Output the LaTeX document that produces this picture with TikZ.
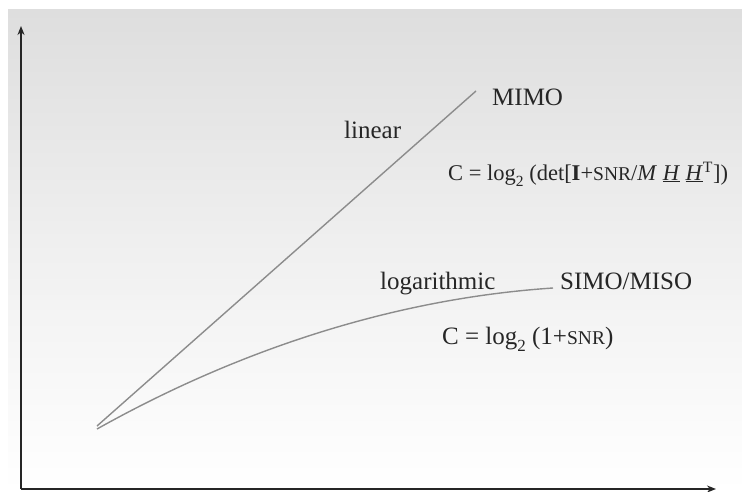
\documentclass[tikz,border=0pt]{standalone}
\usepackage{fontspec}
\setmainfont{Liberation Serif}
\usetikzlibrary{arrows.meta}
\newcommand{\lbsub}{\raisebox{-0.28em}{\fontsize{17}{17}\selectfont 2}}
\newcommand{\smcap}[1]{{\fontsize{19.5}{19.5}\selectfont #1}}
\begin{document}
\begin{tikzpicture}[x=1pt,y=-1pt,
  lbl/.style={anchor=base west,inner sep=0pt,font=\fontsize{25}{29}\selectfont,text=black!85},
  axisline/.style={line width=2pt,black!85,-{Stealth[length=9pt,width=7pt]}},
  curveline/.style={line width=1.4pt,black!45}]
\useasboundingbox (0,0) rectangle (742,491);
\fill[white] (0,0) rectangle (742,491);
\shade[top color=black!13,bottom color=white,middle color=black!6] (8,9) rectangle (742,491);
\coordinate (o) at (21,489);
\coordinate (ytip) at (21,26);
\coordinate (xtip) at (716,489);
\draw[axisline] (o) -- (ytip);
\draw[axisline] (o) -- (xtip);
\coordinate (s1) at (97,426);
\coordinate (s2) at (97,429);
\coordinate (e1) at (476,91);
\coordinate (e2) at (553,288);
\draw[curveline] (s1) -- (e1);
\draw[curveline] (s2) .. controls (247,345) and (403,298) .. (e2);
\node[lbl] (lin) at (344,138) {linear};
\node[lbl] (mimo) at (492,105) {MIMO};
\node[lbl,font=\fontsize{22.5}{26}\selectfont] (f1) at (448,180) {C = log{\raisebox{-0.28em}{\fontsize{15.5}{15.5}\selectfont 2}}\ (det[\textbf{I}+{\fontsize{19.5}{19.5}\selectfont SNR}/\textit{M} \underline{\textit{H}} \underline{\textit{H}}\textsuperscript{T}])};
\node[lbl] (log) at (380,289) {logarithmic};
\node[lbl] (simo) at (560,289) {SIMO/MISO};
\node[lbl] (f2) at (442,344) {C = log\lbsub\ (1+\smcap{SNR})};
\end{tikzpicture}
\end{document}
